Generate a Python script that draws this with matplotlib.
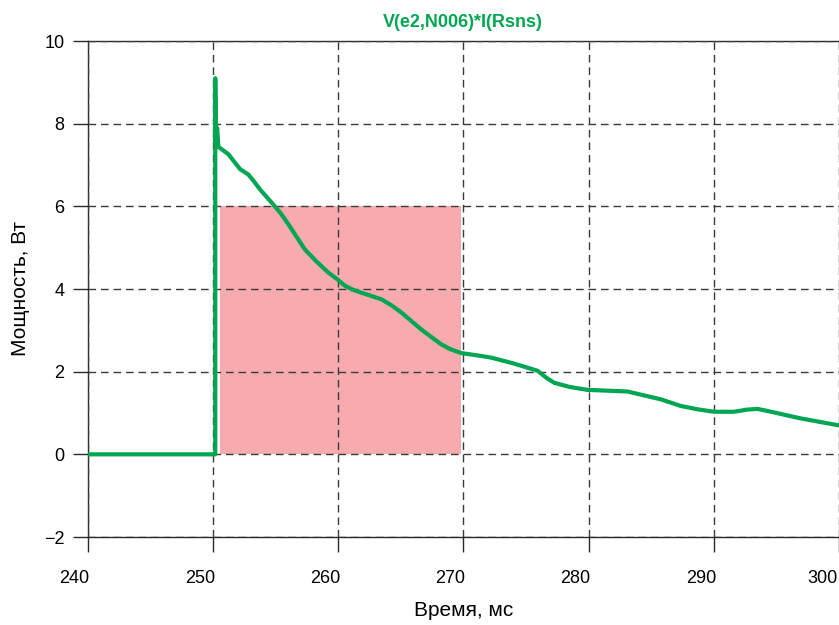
import matplotlib
matplotlib.use("Agg")
import matplotlib.pyplot as plt
import matplotlib.transforms as mtransforms
from matplotlib.patches import Rectangle

plt.rcParams['font.family'] = ['Liberation Sans', 'DejaVu Sans']

# power curve V(e2,N006)*I(Rsns)
time_ms = [240.0, 250.2, 250.2, 250.25, 250.35, 250.45, 251.25, 252.18, 252.84,
           253.3, 253.77, 254.7, 255.4, 256.03, 256.83, 257.35, 258.3, 259.22,
           260.0, 260.54, 261.2, 261.87, 263.47, 264.3, 265.06, 266.65, 267.71,
           268.25, 269.0, 269.84, 271.43, 272.23, 274.0, 275.95, 276.6, 277.27,
           278.5, 279.92, 283.12, 285.78, 287.37, 288.7, 290.02, 291.62, 292.6,
           293.48, 294.28, 296.93, 300.0]
power_w = [0.0, 0.0, 9.1, 7.55, 7.9, 7.44, 7.26, 6.90, 6.77,
           6.60, 6.41, 6.09, 5.84, 5.57, 5.20, 4.96, 4.66, 4.40,
           4.22, 4.08, 3.98, 3.91, 3.75, 3.60, 3.43, 3.02, 2.78,
           2.66, 2.54, 2.45, 2.38, 2.34, 2.20, 2.02, 1.86, 1.73,
           1.63, 1.56, 1.52, 1.33, 1.17, 1.09, 1.03, 1.03, 1.08,
           1.10, 1.05, 0.87, 0.70]

# highlighted window
win_t = [250.6, 269.8]
win_p = [0.0, 6.0]

x_ticks = [240, 250, 260, 270, 280, 290, 300]
y_ticks = [-2, 0, 2, 4, 6, 8, 10]

green = '#00a651'
pink = '#f7abae'

fig = plt.figure(figsize=(8.39, 6.25), dpi=100)
ax = fig.add_axes([0.1043, 0.1408, 0.8957, 0.7936])

ax.add_patch(Rectangle((win_t[0], win_p[0]), win_t[1] - win_t[0], win_p[1] - win_p[0],
                       facecolor=pink, edgecolor='none', zorder=1))
ax.plot(time_ms, power_w, color=green, lw=3.0, solid_joinstyle='round',
        solid_capstyle='round', zorder=3)

ax.set_xlim(240, 300)
ax.set_ylim(-2, 10)
ax.set_xticks(x_ticks)
ax.set_yticks(y_ticks)
ax.grid(True, color='#3a3a3a', linestyle=(0, (5.5, 3.5)), linewidth=1.0, zorder=2)
ax.set_axisbelow(False)

for s in ['left', 'bottom', 'top']:
    ax.spines[s].set_color('#2a2a2a')
    ax.spines[s].set_linewidth(1.0)
ax.spines['right'].set_visible(False)

ax.tick_params(axis='y', direction='out', length=10.5, width=1.0, color='#2a2a2a',
               labelsize=13, pad=6)
ax.tick_params(axis='x', direction='out', length=11, width=1.0, color='#2a2a2a',
               labelsize=13, pad=13)

# x labels sit a bit left of their ticks in the original
labels = ax.get_xticklabels()
for i, lbl in enumerate(labels):
    dx = -17 if i == len(labels) - 1 else -13
    offset = mtransforms.ScaledTranslation(dx / 100, 0, fig.dpi_scale_trans)
    lbl.set_transform(lbl.get_transform() + offset)

ax.set_xlabel('Время, мс', fontsize=15, labelpad=10)
ax.set_ylabel('Мощность, Вт', fontsize=15, labelpad=10)
ax.set_title('V(e2,N006)*I(Rsns)', color=green, fontsize=13, fontweight='bold', pad=10)

fig.savefig('out.png', dpi=100)
